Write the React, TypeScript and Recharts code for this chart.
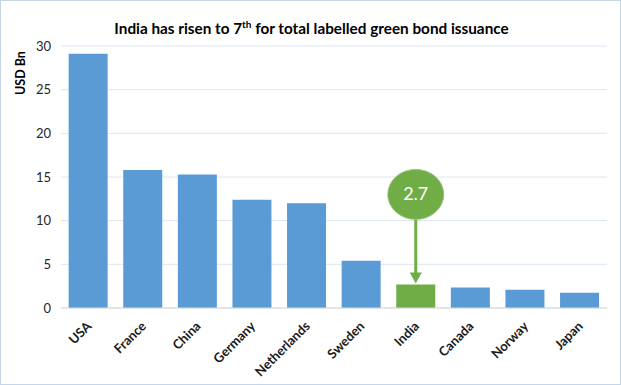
import { BarChart, Bar, XAxis, YAxis, CartesianGrid, Cell, LabelList } from "recharts";

// Labelled green bond issuance by country (USD Bn)
const countries = ["USA", "France", "China", "Germany", "Netherlands", "Sweden", "India", "Canada", "Norway", "Japan"];
const issuance = [29.1, 15.8, 15.3, 12.4, 12.0, 5.4, 2.7, 2.35, 2.1, 1.75];
const yTicks = [0, 5, 10, 15, 20, 25, 30];
const highlight = "India";

const data = countries.map((c, i) => ({ country: c, value: issuance[i] }));

const FONT = "Lato, 'Open Sans', sans-serif";
const BLUE = "#5B9BD5";
const GREEN = "#70AD47";

const CountryTick = (props: any) => {
  const { x, y, payload } = props;
  const tx = x + 4;
  const ty = y + 11;
  return (
    <text
      x={tx}
      y={ty}
      transform={`rotate(-45, ${tx}, ${ty})`}
      textAnchor="end"
      fontFamily={FONT}
      fontWeight={700}
      fontSize={13}
      fill="#1a1a1a"
    >
      {payload.value}
    </text>
  );
};

// green bubble with arrow pointing down at the highlighted bar
const Callout = (props: any) => {
  const { x, y, width, value, index } = props;
  if (countries[index] !== highlight) return null;
  const cx = x + width / 2;
  const cy = y - 90;
  return (
    <g>
      <line x1={cx} y1={cy + 25} x2={cx} y2={y - 10} stroke={GREEN} strokeWidth={3} />
      <polygon points={`${cx - 6},${y - 12} ${cx + 6},${y - 12} ${cx},${y - 1}`} fill={GREEN} />
      <ellipse cx={cx} cy={cy} rx={28} ry={25} fill={GREEN} stroke="#9CC47F" strokeWidth={1} />
      <text x={cx} y={cy + 6} textAnchor="middle" fontFamily={FONT} fontSize={18} fill="#ffffff">
        {value}
      </text>
    </g>
  );
};

export default function App() {
  return (
    <div
      style={{
        position: "absolute",
        left: 0,
        top: 0,
        width: 621,
        height: 385,
        boxSizing: "border-box",
        border: "1px solid #C5D6E8",
        background: "#fff",
      }}
    >
      <div
        style={{
          position: "absolute",
          left: 0,
          width: 621,
          top: 17,
          textAlign: "center",
          fontFamily: FONT,
          fontWeight: 700,
          fontSize: 15.3,
          color: "#000",
        }}
      >
        India has risen to 7<sup style={{ fontSize: 10 }}>th</sup> for total labelled green bond issuance
      </div>
      <div
        style={{
          position: "absolute",
          left: 19,
          top: 72,
          transform: "translate(-50%, -50%) rotate(-90deg)",
          fontFamily: FONT,
          fontWeight: 700,
          fontSize: 12.5,
          whiteSpace: "nowrap",
          color: "#000",
        }}
      >
        USD Bn
      </div>
      <div style={{ position: "absolute", left: -1, top: -1 }}>
        <BarChart
          width={621}
          height={385}
          data={data}
          margin={{ top: 46, right: 14, bottom: 0, left: 0 }}
          barCategoryGap="14%"
        >
          <CartesianGrid vertical={false} stroke="#DCE6F1" />
          <XAxis
            dataKey="country"
            interval={0}
            tickLine={false}
            axisLine={{ stroke: "#D9D9D9" }}
            tick={<CountryTick />}
            height={77}
          />
          <YAxis
            width={61}
            domain={[0, 30]}
            ticks={yTicks}
            axisLine={false}
            tickLine={false}
            tickMargin={4}
            tick={{ fontFamily: FONT, fontSize: 13, fill: "#262626" }}
          />
          <Bar dataKey="value" isAnimationActive={false}>
            {data.map((d) => (
              <Cell key={d.country} fill={d.country === highlight ? GREEN : BLUE} />
            ))}
            <LabelList dataKey="value" content={<Callout />} />
          </Bar>
        </BarChart>
      </div>
    </div>
  );
}
